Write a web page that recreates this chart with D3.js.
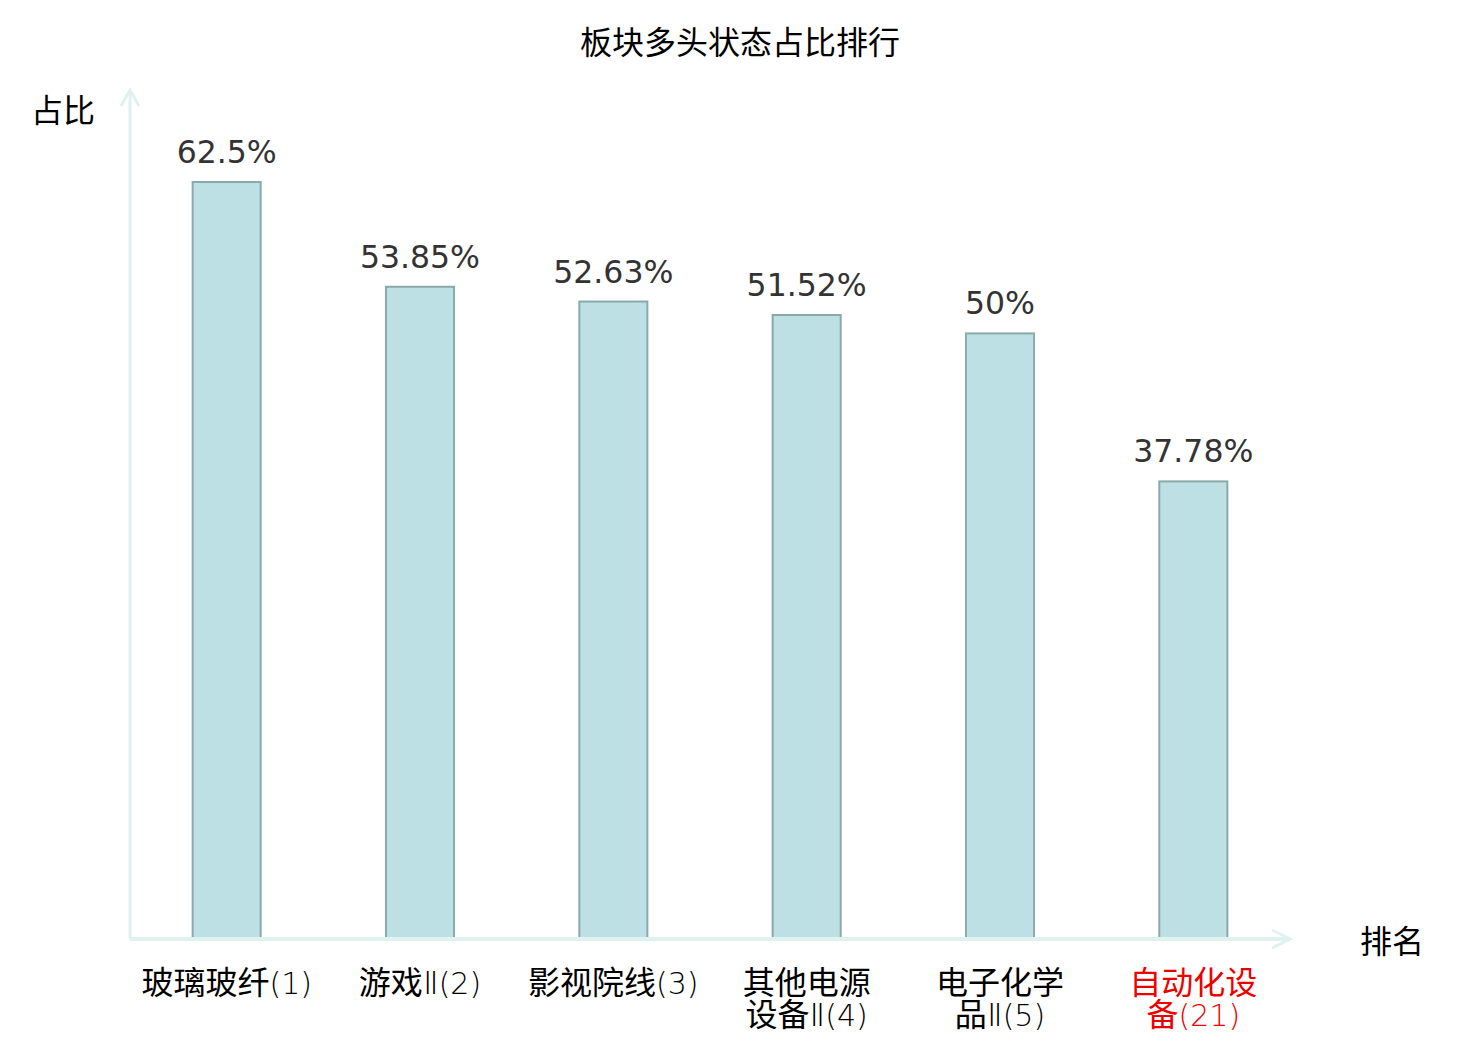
<!DOCTYPE html>
<html>
<head>
<meta charset="utf-8">
<script src="https://cdn.jsdelivr.net/npm/d3@7"></script>
<style>
  body { margin: 0; background: #fff; }
  text { font-family: "Noto Sans CJK SC", "DejaVu Sans", sans-serif; }
</style>
</head>
<body>
<svg id="chart" width="1480" height="1040"></svg>
<script>
// 板块多头状态占比排行
var categories = ["玻璃玻纤(1)", "游戏Ⅱ(2)", "影视院线(3)", "其他电源设备Ⅱ(4)", "电子化学品Ⅱ(5)", "自动化设备(21)"];
var names = ["玻璃玻纤", "游戏Ⅱ", "影视院线", "其他电源设备Ⅱ", "电子化学品Ⅱ", "自动化设备"];
var ranks = [1, 2, 3, 4, 5, 21];
var values = [62.5, 53.85, 52.63, 51.52, 50, 37.78];
var highlight = [false, false, false, false, false, true];

var svg = d3.select("#chart");
var x0 = 130, x1 = 1290, y0 = 939, yTop = 90;

var x = d3.scaleBand().domain(categories).range([x0, x1]).padding(0);
var y = d3.scaleLinear().domain([0, 62.5]).range([y0, 182]);
var barW = x.bandwidth() * 0.352;

// title
svg.append("text").attr("x", 740).attr("y", 54).attr("text-anchor", "middle")
	.attr("font-size", 32).attr("fill", "#000").text("板块多头状态占比排行");

// bars
var g = svg.append("g");
g.selectAll(".bar").data(values).enter().append("rect").attr("class", "bar")
	.attr("x", function(d, i) { return x(categories[i]) + x.bandwidth() / 2 - barW / 2; })
	.attr("y", function(d) { return y(d); })
	.attr("width", barW)
	.attr("height", function(d) { return y0 - y(d); })
	.attr("fill", "#bce0e3")
	.attr("stroke", "#8aa9aa")
	.attr("stroke-width", 2);

g.selectAll(".val").data(values).enter().append("text").attr("class", "val")
	.attr("x", function(d, i) { return x(categories[i]) + x.bandwidth() / 2; })
	.attr("y", function(d) { return y(d) - 19; })
	.attr("text-anchor", "middle")
	.attr("font-size", 31.5)
	.style("font-family", "'DejaVu Sans', sans-serif")
	.attr("fill", "#333")
	.text(function(d) { return d + "%"; });

// axes with arrows
var axisColor = "#dff2ef";
svg.append("line").attr("x1", x0).attr("y1", y0).attr("x2", x0).attr("y2", yTop)
	.attr("stroke", axisColor).attr("stroke-width", 3);
svg.append("path").attr("d", "M" + (x0 - 9) + "," + (yTop + 16) + "L" + x0 + "," + yTop + "L" + (x0 + 9) + "," + (yTop + 16))
	.attr("fill", "none").attr("stroke", axisColor).attr("stroke-width", 3);
svg.append("line").attr("x1", x0).attr("y1", y0).attr("x2", x1).attr("y2", y0)
	.attr("stroke", axisColor).attr("stroke-width", 4);
svg.append("path").attr("d", "M" + (x1 - 18) + "," + (y0 - 9) + "L" + x1 + "," + y0 + "L" + (x1 - 18) + "," + (y0 + 9))
	.attr("fill", "none").attr("stroke", axisColor).attr("stroke-width", 3);

svg.append("text").attr("x", 63).attr("y", 122).attr("text-anchor", "middle")
	.attr("font-size", 32).attr("fill", "#000").text("占比");
svg.append("text").attr("x", 1392).attr("y", 953).attr("text-anchor", "middle")
	.attr("font-size", 32).attr("fill", "#000").text("排名");

// category labels, wrapped after 4 characters
var lab = svg.selectAll(".cat").data(categories).enter().append("text").attr("class", "cat")
	.attr("text-anchor", "middle")
	.attr("font-size", 32)
	.attr("fill", function(d, i) { return highlight[i] ? "#ee0000" : "#000"; });
lab.each(function(d, i) {
	var t = d3.select(this), cx = x(d) + x.bandwidth() / 2;
	var lines = names[i].length > 4 ? [names[i].slice(0, 4), names[i].slice(4)] : [names[i]];
	lines.forEach(function(s, k) {
		var ts = t.append("tspan").attr("x", cx).attr("y", 994 + k * 32);
		var parts = s.split("Ⅱ");
		ts.append("tspan").text(parts[0]);
		if (parts.length > 1) {
			ts.append("tspan").style("font-family", "'DejaVu Sans'").attr("font-weight", 200).text("Ⅱ");
			ts.append("tspan").text(parts[1]);
		}
		if (k == lines.length - 1) {
			ts.append("tspan").style("font-family", "'DejaVu Sans'").attr("font-weight", 200)
				.attr("font-size", 30).text("(" + ranks[i] + ")");
		}
	});
});
</script>
</body>
</html>
